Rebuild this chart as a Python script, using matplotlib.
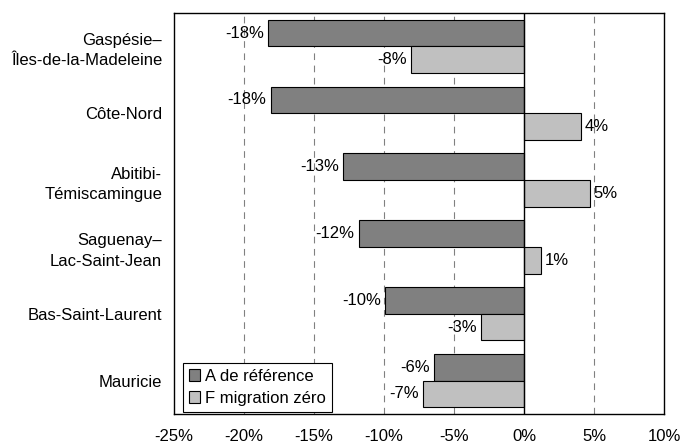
import numpy as np
import matplotlib.pyplot as plt

plt.rcParams['font.family'] = ['Liberation Sans', 'DejaVu Sans']

regions = ["Gaspésie–\nÎles-de-la-Madeleine", "Côte-Nord", "Abitibi-\nTémiscamingue",
           "Saguenay–\nLac-Saint-Jean", "Bas-Saint-Laurent", "Mauricie"]
scen_a = [-18.3, -18.1, -12.9, -11.8, -9.9, -6.4]
scen_f = [-8.1, 4.1, 4.7, 1.2, -3.1, -7.2]
series_names = ["A de référence", "F migration zéro"]
xticks = [-25, -20, -15, -10, -5, 0, 5, 10]

fs = 12
fig = plt.figure(figsize=(6.95, 4.45), dpi=100)
ax = fig.add_axes([174 / 695, 1 - 414 / 445, 490 / 695, 401 / 445])

y = np.arange(len(regions))
h = 0.4
bars_a = ax.barh(y - h / 2, scen_a, height=h, color="#808080", edgecolor="black",
                 linewidth=0.8, label=series_names[0], zorder=3)
bars_f = ax.barh(y + h / 2, scen_f, height=h, color="#c0c0c0", edgecolor="black",
                 linewidth=0.8, label=series_names[1], zorder=3)

for bars, vals in ((bars_a, scen_a), (bars_f, scen_f)):
    for b, v in zip(bars, vals):
        cy = b.get_y() + b.get_height() / 2
        if v < 0:
            ax.annotate(f"{v:.0f}%", (v, cy), xytext=(-3, 0), textcoords="offset points",
                        ha="right", va="center", fontsize=fs)
        else:
            ax.annotate(f"{v:.0f}%", (v, cy), xytext=(2.5, 0), textcoords="offset points",
                        ha="left", va="center", fontsize=fs)

ax.set_xlim(-25, 10)
ax.set_ylim(len(regions) - 0.5, -0.5)
ax.set_xticks(xticks)
ax.set_xticklabels([f"{t}%" for t in xticks], fontsize=fs)
ax.set_yticks(y)
ax.set_yticklabels(regions, fontsize=fs)
for lbl in ax.get_yticklabels():
    lbl.set_linespacing(1.45)
ax.tick_params(axis="y", length=0, pad=8.5)
ax.tick_params(axis="x", length=0, pad=11)

for t in xticks[1:-1]:
    if t != 0:
        ax.axvline(t, color="#808080", linestyle=(0, (6, 5)), linewidth=0.8, zorder=1)
ax.axvline(0, color="black", linewidth=1, zorder=4)

for s in ax.spines.values():
    s.set_linewidth(1)
    s.set_color("black")

leg = ax.legend(loc="lower left", bbox_to_anchor=(0.018, 0.005), fontsize=fs,
                frameon=True, fancybox=False, edgecolor="black", framealpha=1,
                handlelength=0.7, handleheight=0.7, handletextpad=0.3,
                borderpad=0.35, labelspacing=0.45, borderaxespad=0)
leg.get_frame().set_linewidth(0.8)

fig.savefig("out.png", dpi=100)
